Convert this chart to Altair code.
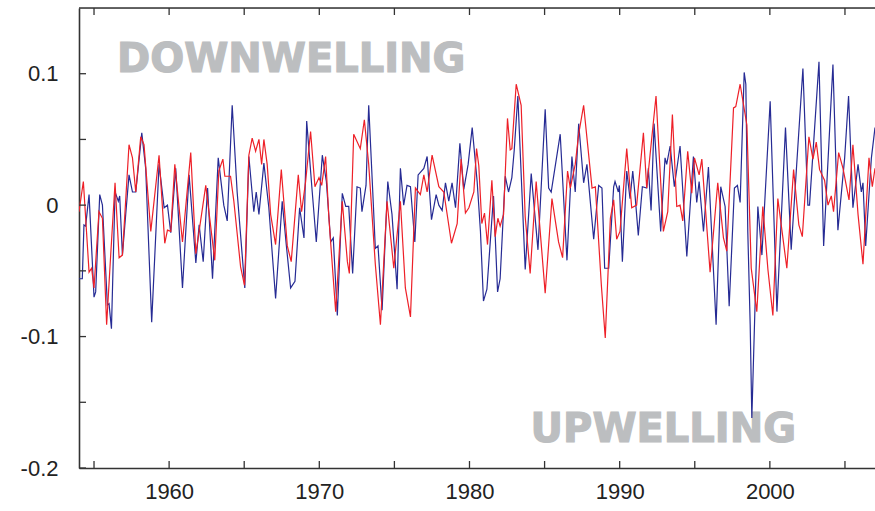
import altair as alt
import pandas as pd

# ---- data ----
blue_year = [
    1954.00, 1954.22, 1954.33, 1954.44, 1954.67, 1955.00, 1955.11, 1955.38, 1955.56, 1955.89,
    1956.00, 1956.16, 1956.40, 1956.62, 1956.71, 1956.89, 1957.11, 1957.33, 1957.56, 1957.78,
    1958.18, 1958.44, 1958.84, 1959.33, 1959.67, 1959.89, 1960.11, 1960.44, 1960.89, 1961.33,
    1961.78, 1962.00, 1962.27, 1962.56, 1962.89,
    1963.27, 1963.64, 1963.87, 1964.20, 1964.53, 1965.04, 1965.31, 1965.64, 1965.80, 1965.98,
    1966.31, 1966.64, 1967.09, 1967.53, 1967.80, 1968.09, 1968.38, 1968.69, 1968.98, 1969.16,
    1969.53, 1969.80, 1970.20, 1970.47, 1970.76, 1970.93, 1971.20, 1971.53, 1971.76,
    1971.96, 1972.22, 1972.51, 1972.73, 1972.84, 1973.11, 1973.29, 1973.56, 1973.73, 1973.91,
    1974.18, 1974.56, 1974.84, 1975.18, 1975.40, 1975.62, 1975.84, 1976.07, 1976.36, 1976.58,
    1976.96, 1977.18, 1977.47, 1977.78, 1977.96, 1978.18, 1978.40, 1978.62, 1978.84, 1979.07,
    1979.36, 1979.62, 1979.91, 1980.18, 1980.51, 1980.73,
    1980.93, 1981.16, 1981.60, 1981.87, 1982.04, 1982.38, 1982.60, 1982.82, 1982.98, 1983.22,
    1983.71, 1984.11, 1984.56, 1985.04, 1985.27, 1985.44, 1986.04, 1986.49, 1986.82, 1987.04,
    1987.27, 1987.60, 1987.82, 1988.27, 1988.60, 1988.82, 1989.00, 1989.27, 1989.60,
    1989.69, 1989.91, 1989.98, 1990.18, 1990.47, 1990.69, 1990.87, 1991.02, 1991.24, 1991.51,
    1991.80, 1991.91, 1992.09, 1992.29, 1992.73, 1993.02, 1993.13, 1993.36, 1993.64, 1994.02,
    1994.47, 1994.91, 1995.13, 1995.29, 1995.58, 1995.91, 1996.42, 1996.73, 1997.02, 1997.29,
    1997.64, 1997.84, 1998.02, 1998.29, 1998.40,
    1998.53, 1998.69, 1998.80, 1999.20, 1999.47, 2000.02, 2000.47, 2001.04, 2001.42, 2002.20,
    2002.53, 2002.64, 2003.27, 2003.58, 2004.20, 2004.53, 2004.98, 2005.24, 2005.53, 2005.87,
    2006.09, 2006.20, 2006.38, 2006.76, 2007.00,
]
blue_val = [
    -0.056, -0.056, -0.015, -0.016, 0.008, -0.070, -0.066, 0.008, 0.000, -0.076,
    -0.075, -0.094, 0.010, 0.003, 0.007, -0.038, -0.007, 0.023, 0.010, 0.010,
    0.055, 0.028, -0.089, 0.031, -0.002, 0.000, -0.021, 0.028, -0.063, 0.023,
    -0.044, -0.015, -0.043, 0.013, -0.056,
    0.036, 0.000, -0.012, 0.076, 0.010, -0.063, 0.037, -0.005, 0.010, -0.007,
    0.032, -0.002, -0.071, 0.003, -0.030, -0.063, -0.058, -0.002, -0.025, 0.064,
    0.010, -0.028, 0.038, 0.018, -0.028, -0.025, -0.084, 0.009, -0.001,
    -0.001, -0.052, 0.014, 0.013, -0.005, 0.015, 0.076, 0.010, -0.033, -0.031,
    -0.080, 0.018, -0.007, -0.064, 0.028, 0.000, 0.015, 0.014, -0.028, 0.023,
    0.028, 0.037, -0.011, 0.008, 0.000, -0.004, 0.017, 0.003, 0.017, -0.002,
    0.047, 0.012, 0.031, 0.059, 0.018, -0.020,
    -0.073, -0.064, 0.007, -0.066, -0.056, 0.022, 0.010, 0.021, 0.042, 0.083,
    -0.049, 0.024, -0.034, 0.073, 0.013, 0.010, 0.054, -0.042, 0.037, 0.010,
    0.062, 0.017, 0.031, -0.026, 0.015, 0.013, -0.048, -0.048, 0.014,
    0.018, 0.010, 0.015, -0.043, 0.026, 0.005, 0.026, 0.008, -0.023, 0.014,
    0.013, 0.028, -0.004, 0.062, -0.020, 0.036, 0.031, 0.045, 0.014, 0.045,
    -0.039, 0.037, 0.002, 0.018, -0.020, 0.029, -0.091, 0.014, -0.001, -0.077,
    0.013, 0.015, 0.002, 0.101, 0.092,
    -0.020, -0.091, -0.162, -0.001, -0.038, 0.079, -0.081, 0.059, -0.034, 0.104,
    0.000, 0.000, 0.109, -0.031, 0.107, -0.019, 0.036, 0.083, -0.002, 0.031,
    0.010, 0.017, -0.031, 0.036, 0.059,
]

red_year = [
    1954.00, 1954.29, 1954.67, 1954.84, 1955.00, 1955.33, 1955.56, 1955.84, 1956.11, 1956.40,
    1956.67, 1956.89, 1957.33, 1957.56, 1957.78, 1958.11, 1958.33, 1958.78, 1959.33, 1959.71,
    1959.89, 1960.11, 1960.38, 1960.89, 1961.44, 1961.78, 1962.44,
    1963.04, 1963.31, 1963.58, 1963.71, 1964.09, 1964.31, 1964.76, 1965.02, 1965.31, 1965.53,
    1965.76, 1965.98, 1966.16, 1966.31, 1966.53, 1966.76, 1967.09, 1967.47, 1967.87, 1968.13,
    1968.60, 1968.82, 1969.09, 1969.42, 1969.71, 1969.98, 1970.16, 1970.42, 1970.64, 1971.09,
    1971.53, 1971.87,
    1972.00, 1972.29, 1972.73, 1973.00, 1973.29, 1973.73, 1974.07, 1974.51, 1974.96, 1975.40,
    1975.73, 1976.07, 1976.40, 1976.73, 1976.96, 1977.18, 1977.51, 1977.96, 1978.29, 1978.80,
    1979.18, 1979.44, 1979.73, 1979.96, 1980.29, 1980.47, 1980.62,
    1980.82, 1981.00, 1981.20, 1981.49, 1981.71, 1981.89, 1982.04, 1982.27, 1982.53, 1982.71,
    1982.82, 1983.11, 1983.44, 1983.71, 1984.04, 1984.44, 1985.04, 1985.49, 1985.93, 1986.20,
    1986.53, 1986.71, 1987.04, 1987.27, 1987.60, 1988.16, 1988.38, 1988.78, 1989.04, 1989.38,
    1989.60,
    1989.80, 1990.02, 1990.47, 1990.80, 1991.13, 1991.58, 1991.80, 1992.02, 1992.42, 1992.91,
    1993.20, 1993.51, 1993.80, 1994.02, 1994.20, 1994.53, 1994.80, 1994.98, 1995.29, 1995.47,
    1996.02, 1996.53, 1996.91, 1997.13, 1997.58, 1997.73, 1998.02, 1998.47,
    1998.76, 1999.13, 1999.53, 1999.87, 2000.20, 2000.53, 2001.13, 2001.58, 2001.93, 2002.16,
    2002.60, 2002.87, 2003.09, 2003.31, 2003.64, 2003.87, 2004.09, 2004.24, 2004.58, 2004.87,
    2005.27, 2005.53, 2005.87, 2006.20, 2006.60, 2006.82, 2007.00,
]
red_val = [
    -0.005, 0.018, -0.051, -0.048, -0.063, -0.005, -0.010, -0.091, -0.038, 0.017,
    -0.040, -0.038, 0.046, 0.036, 0.010, 0.052, 0.046, -0.020, 0.038, -0.029,
    -0.019, -0.020, 0.031, -0.028, 0.040, -0.037, 0.015,
    -0.042, 0.026, 0.035, 0.022, 0.022, 0.003, -0.047, -0.061, 0.038, 0.051,
    0.041, 0.050, 0.031, 0.050, 0.031, -0.007, -0.030, 0.027, -0.031, -0.043,
    0.023, -0.005, 0.018, 0.056, 0.014, 0.021, 0.015, 0.037, -0.010, -0.081,
    0.003, -0.043,
    -0.052, 0.054, 0.043, 0.065, 0.031, -0.045, -0.091, 0.003, -0.048, 0.003,
    -0.063, -0.085, 0.013, 0.008, 0.023, 0.010, 0.038, 0.014, 0.010, -0.029,
    -0.014, 0.035, -0.006, -0.002, 0.010, 0.043, 0.030,
    -0.014, -0.006, -0.030, 0.019, -0.024, -0.010, -0.016, -0.007, 0.066, 0.042,
    0.043, 0.092, 0.076, -0.009, -0.052, 0.018, -0.067, 0.005, -0.028, -0.040,
    0.026, 0.013, 0.031, 0.054, 0.076, 0.013, 0.014, -0.061, -0.101, -0.010,
    0.004,
    -0.026, -0.020, 0.043, -0.002, 0.000, 0.055, 0.013, 0.038, 0.083, -0.020,
    -0.005, 0.069, -0.001, 0.000, -0.012, 0.041, 0.009, 0.036, 0.023, 0.035,
    -0.051, 0.017, -0.025, -0.035, 0.074, 0.075, 0.092, 0.061,
    -0.048, -0.081, -0.001, -0.049, -0.084, 0.005, -0.048, 0.027, -0.015, -0.024,
    0.052, 0.035, 0.048, 0.027, 0.019, 0.000, 0.007, -0.005, 0.040, 0.028,
    0.004, 0.046, -0.007, -0.045, 0.036, 0.014, 0.028,
]

y_label_values = [-0.2, -0.1, 0.0, 0.1]
y_tick_values = [-0.2, -0.15, -0.1, -0.05, 0.0, 0.05, 0.1]
x_label_values = [1960, 1970, 1980, 1990, 2000]
x_tick_values = [1955, 1960, 1965, 1970, 1975, 1980, 1985, 1990, 1995, 2000, 2005]

annot_text = ["DOWNWELLING", "UPWELLING"]
annot_year = [1956.53, 1984.07]
annot_val = [0.1013, -0.180]

# ---- build ----
W, H = 796, 460
FONT = "Liberation Sans"
AXIS_COLOR = "#333333"
TEXT_GRAY = "#BCBEC0"

blue_df = pd.DataFrame({"year": blue_year, "val": blue_val})
red_df = pd.DataFrame({"year": red_year, "val": red_val})
annot_df = pd.DataFrame({"year": annot_year, "val": annot_val, "label": annot_text})

x_scale = alt.Scale(domain=[1954, 2007], nice=False, zero=False)
y_scale = alt.Scale(domain=[-0.2, 0.15], nice=False, zero=False)

x_axis = alt.Axis(
    values=x_label_values, format="d", title=None, grid=False, ticks=False, tickSize=0,
    labelFont=FONT, labelFontSize=22, labelColor="#222222", labelPadding=13,
    domainColor=AXIS_COLOR, domainWidth=1.6, labelFlush=False,
)
y_axis = alt.Axis(
    values=y_label_values, title=None, grid=False, ticks=False, tickSize=0,
    labelExpr="datum.value == 0 ? '0' : (datum.value < 0 ? '-' + format(-datum.value, '.1f') : format(datum.value, '.1f'))",
    labelFont=FONT, labelFontSize=22, labelColor="#222222", labelPadding=21,
    domainColor=AXIS_COLOR, domainWidth=1.6, labelFlush=False,
)

X = alt.X("year:Q", scale=x_scale, axis=x_axis)
Y = alt.Y("val:Q", scale=y_scale, axis=y_axis)

text_layer = alt.Chart(annot_df).mark_text(
    font="DejaVu Sans", fontWeight="bold", fontSize=40, color=TEXT_GRAY,
    stroke=TEXT_GRAY, strokeWidth=1.2,
    align="left", baseline="alphabetic",
).encode(x=X, y=Y, text="label:N")

blue_layer = alt.Chart(blue_df).mark_line(color="#262B94", strokeWidth=1.2, clip=True).encode(x=X, y=Y)
red_layer = alt.Chart(red_df).mark_line(color="#EE2028", strokeWidth=1.2, clip=True).encode(x=X, y=Y)

ytick_layer = alt.Chart(pd.DataFrame({"val": y_tick_values})).mark_rule(
    color=AXIS_COLOR, strokeWidth=1.3
).encode(y=Y, x=alt.value(0), x2=alt.value(7))

xtick_bottom = alt.Chart(pd.DataFrame({"year": x_tick_values})).mark_rule(
    color=AXIS_COLOR, strokeWidth=1.3
).encode(x=X, y=alt.value(H), y2=alt.value(H - 7))

xtick_top = alt.Chart(pd.DataFrame({"year": x_tick_values})).mark_rule(
    color=AXIS_COLOR, strokeWidth=1.3
).encode(x=X, y=alt.value(0), y2=alt.value(7))

top_line = alt.Chart(pd.DataFrame({"k": [0]})).mark_rule(
    color=AXIS_COLOR, strokeWidth=1.6
).encode(x=alt.value(0), x2=alt.value(W), y=alt.value(0))

chart = alt.layer(
    text_layer, blue_layer, red_layer, ytick_layer, xtick_bottom, xtick_top, top_line
).properties(
    width=W, height=H,
    autosize=alt.AutoSizeParams(type="none"),
    padding={"left": 79, "top": 8, "right": 0, "bottom": 43},
).configure_view(stroke=None).configure(background="white")

chart.save("out.html", embed_options={"renderer": "svg", "actions": False})
